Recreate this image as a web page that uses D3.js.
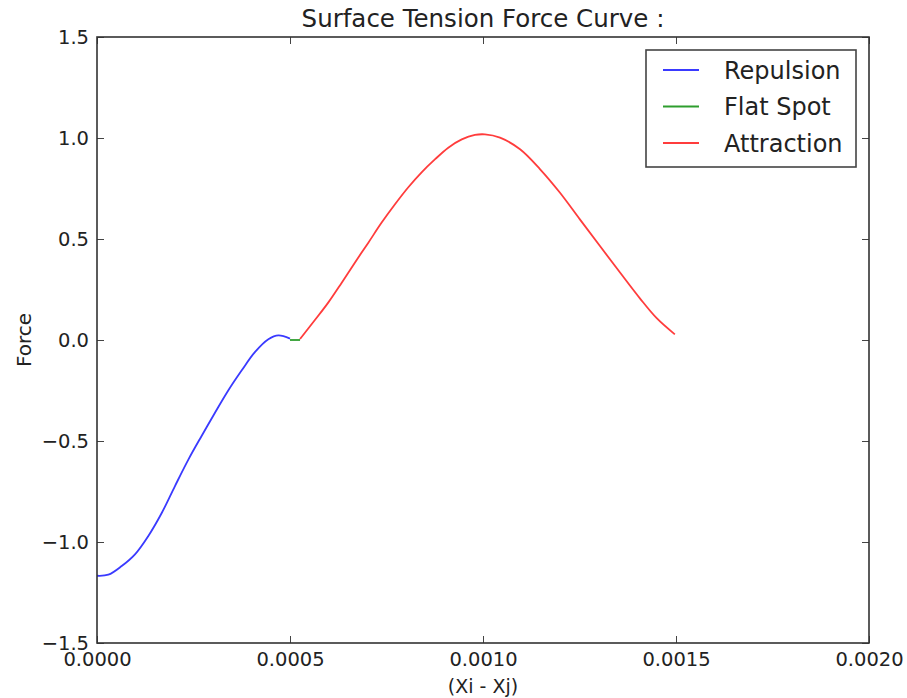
<!DOCTYPE html>
<html>
<head>
<meta charset="utf-8">
<script src="https://cdn.jsdelivr.net/npm/d3@7"></script>
<style>
  body { margin: 0; background: #fff; }
  text { font-family: "DejaVu Sans", sans-serif; fill: #222; }
</style>
</head>
<body>
<div id="chart"></div>
<script>
// values
var repulsionX = [0, 0.0000293, 0.000064, 0.0000984, 0.000133, 0.000168, 0.000202, 0.000237,
                  0.000271, 0.000306, 0.00034, 0.000375, 0.000409, 0.000444, 0.00047, 0.0005]
var repulsionY = [-1.167, -1.162, -1.119, -1.061, -0.970, -0.855, -0.723, -0.591,
                  -0.475, -0.359, -0.25, -0.15, -0.06, 0.004, 0.023, 0.007]

var flatX = [0.0005, 0.000526]
var flatY = [0, 0]

var attractionX = [0.000526, 0.000565, 0.000599, 0.000634, 0.000668, 0.000703, 0.000737, 0.000772,
                   0.000806, 0.000841, 0.000876, 0.00091, 0.000945, 0.000979, 0.001005, 0.001044,
                   0.001096, 0.001148, 0.001199, 0.001251, 0.001303, 0.001355, 0.001407, 0.00145, 0.001497]
var attractionY = [0.005, 0.1, 0.185, 0.284, 0.383, 0.482, 0.58, 0.672,
                   0.755, 0.83, 0.895, 0.952, 0.993, 1.015, 1.018, 1.002,
                   0.944, 0.845, 0.73, 0.597, 0.465, 0.334, 0.205, 0.108, 0.028]

var xTicks = [0, 0.0005, 0.001, 0.0015, 0.002]
var yTicks = [-1.5, -1.0, -0.5, 0.0, 0.5, 1.0, 1.5]

var series = [
  {name: 'Repulsion', color: '#3a3aff', xs: repulsionX, ys: repulsionY},
  {name: 'Flat Spot', color: '#2e9e2e', xs: flatX, ys: flatY},
  {name: 'Attraction', color: '#ff3c3c', xs: attractionX, ys: attractionY}
]

var W = 907, H = 698
var margin = {left: 97, right: 38, top: 37, bottom: 55}
var width = W - margin.left - margin.right,
    height = H - margin.top - margin.bottom

var svg = d3.select('#chart')
  .append('svg')
    .attr('width', W)
    .attr('height', H)

var g = svg.append('g')
    .attr('transform', 'translate(' + margin.left + ',' + margin.top + ')')

var x = d3.scaleLinear().domain([0, 0.002]).range([0, width])
var y = d3.scaleLinear().domain([-1.5, 1.5]).range([height, 0])

var tickLen = 7

// axes: inward ticks on all four sides
var xBottom = d3.axisBottom(x).tickValues(xTicks).tickSizeInner(-tickLen).tickSizeOuter(0)
    .tickPadding(9).tickFormat(d3.format('.4f'))
var xTop = d3.axisTop(x).tickValues(xTicks).tickSizeInner(-tickLen).tickSizeOuter(0).tickFormat('')
var yLeft = d3.axisLeft(y).tickValues(yTicks).tickSizeInner(-tickLen).tickSizeOuter(0)
    .tickPadding(8).tickFormat(function(d){ return d3.format('.1f')(d).replace('-', '\u2212') })
var yRight = d3.axisRight(y).tickValues(yTicks).tickSizeInner(-tickLen).tickSizeOuter(0).tickFormat('')

function styleAxis(sel){
  sel.select('.domain').remove()
  sel.selectAll('line').attr('stroke', '#444').attr('stroke-width', 1)
  sel.selectAll('text').style('font-family', '"DejaVu Sans", sans-serif')
      .style('font-size', '19.5px').attr('fill', '#222')
}

g.append('g').attr('transform', 'translate(0,' + height + ')').call(xBottom).call(styleAxis)
g.append('g').call(xTop).call(styleAxis)
g.append('g').call(yLeft).call(styleAxis)
g.append('g').attr('transform', 'translate(' + width + ',0)').call(yRight).call(styleAxis)

// curves
var line = d3.line()
    .x(function(d){ return x(d[0]) })
    .y(function(d){ return y(d[1]) })
    .curve(d3.curveCatmullRom.alpha(0.5))

series.forEach(function(s){
  var pts = s.xs.map(function(v, i){ return [v, s.ys[i]] })
  g.append('path')
      .attr('d', line(pts))
      .attr('fill', 'none')
      .attr('stroke', s.color)
      .attr('stroke-width', 1.8)
})

// frame
g.append('rect')
    .attr('width', width).attr('height', height)
    .attr('fill', 'none').attr('stroke', '#333').attr('stroke-width', 1.6)

// legend
var legend = svg.append('g').attr('transform', 'translate(646,50)')
legend.append('rect')
    .attr('width', 210).attr('height', 117)
    .attr('fill', '#fff').attr('stroke', '#444').attr('stroke-width', 1.6)
series.forEach(function(s, i){
  var row = legend.append('g').attr('transform', 'translate(0,' + (20 + i * 36.5) + ')')
  row.append('line').attr('x1', 17).attr('x2', 53)
      .attr('stroke', s.color).attr('stroke-width', 1.8)
  row.append('text').attr('x', 78).attr('dy', '0.36em')
      .style('font-size', '24px').text(s.name)
})

// labels
svg.append('text')
    .attr('x', margin.left + width / 2).attr('y', 27)
    .attr('text-anchor', 'middle')
    .style('font-size', '24.5px')
    .text('Surface Tension Force Curve :')

svg.append('text')
    .attr('x', margin.left + width / 2).attr('y', 693)
    .attr('text-anchor', 'middle')
    .style('font-size', '19px')
    .text('(Xi - Xj)')

svg.append('text')
    .attr('transform', 'translate(31,' + (margin.top + height / 2) + ') rotate(-90)')
    .attr('text-anchor', 'middle')
    .style('font-size', '20px')
    .text('Force')
</script>
</body>
</html>
